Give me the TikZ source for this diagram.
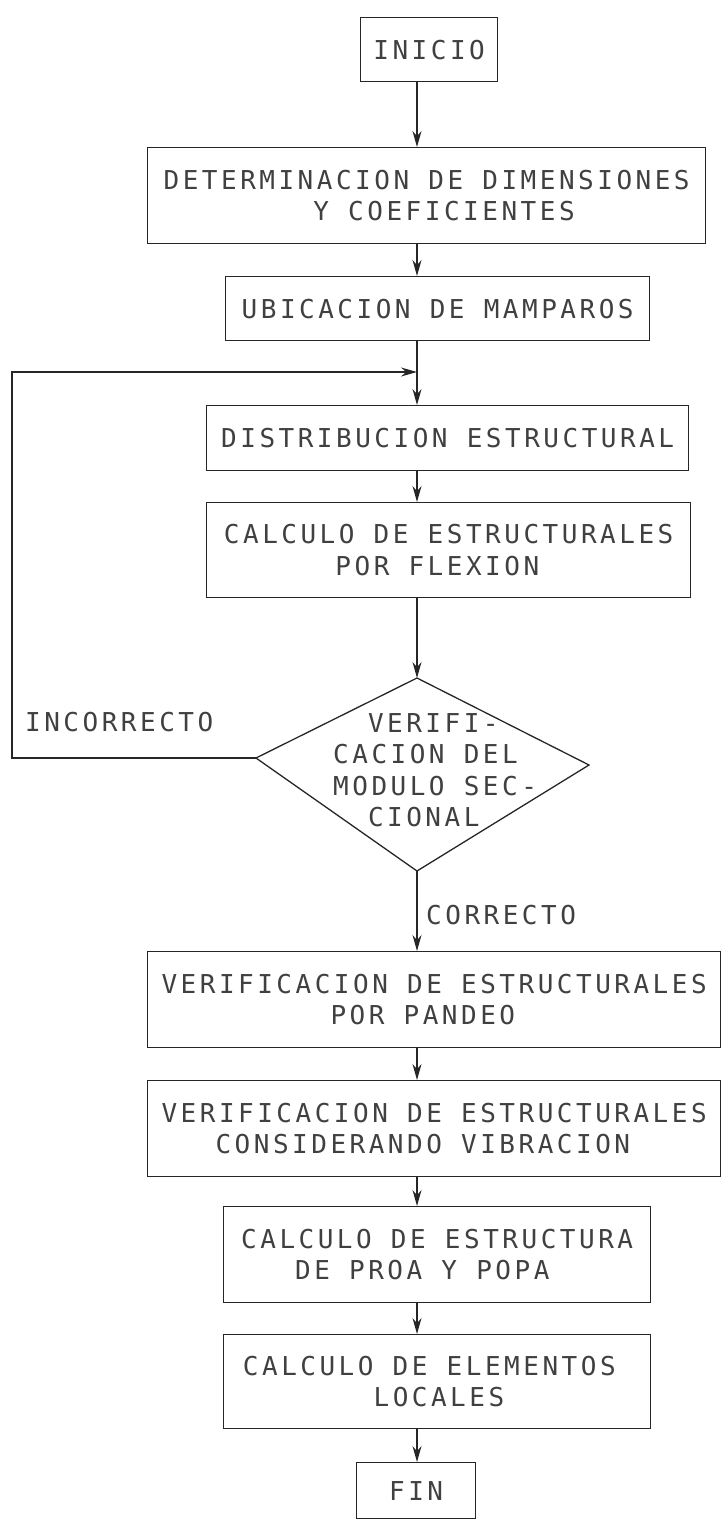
\documentclass[tikz,border=0pt]{standalone}
\usepackage{fontspec}
\newfontfamily\plotfont[LetterSpace=13.5]{DejaVu Sans Mono}
\usetikzlibrary{arrows.meta}
\begin{document}
\begin{tikzpicture}[x=1pt,y=-1pt,
  txt/.style={text=black!75, font=\fontsize{26}{31.5}\plotfont},
  box/.style={txt, draw=black!85, line width=1.3pt, anchor=north west, inner sep=0pt, align=left},
  lbl/.style={txt, inner sep=0pt, anchor=west, align=left},
  conn/.style={draw=black!85, line width=1.3pt},
  arr/.style={conn, -{Stealth[length=16pt,width=9pt]}}]
\path[use as bounding box] (0,0) rectangle (723,1522);
\clip (0,0) rectangle (723,1522);
\coordinate (axis) at (417,0);
% boxes
\node[box, minimum width=137pt, minimum height=64pt] (inicio) at (360,17) {INICIO};
\node[box, minimum width=558pt, minimum height=96pt] (det) at (147,147)
  {DETERMINACION DE DIMENSIONES\\\phantom{XXXXXXXX}Y COEFICIENTES};
\node[box, minimum width=424pt, minimum height=64pt] (ubic) at (225,276) {UBICACION DE MAMPAROS};
\node[box, minimum width=482pt, minimum height=65pt] (distrib) at (206,405) {DISTRIBUCION ESTRUCTURAL};
\node[box, minimum width=484pt, minimum height=95pt] (calc) at (206,502)
  {CALCULO DE ESTRUCTURALES\\\phantom{XXXXXX}POR FLEXION};
\node[box, minimum width=573pt, minimum height=96pt] (verif1) at (147,951)
  {VERIFICACION DE ESTRUCTURALES\\\phantom{XXXXXXXXX}POR PANDEO};
\node[box, minimum width=573pt, minimum height=96pt] (verif2) at (147,1080)
  {VERIFICACION DE ESTRUCTURALES\\\phantom{XXX}CONSIDERANDO VIBRACION};
\node[box, minimum width=427pt, minimum height=96pt] (proa) at (223,1206)
  {CALCULO DE ESTRUCTURA\\\phantom{XXX}DE PROA Y POPA};
\node[box, minimum width=427pt, minimum height=94pt] (elem) at (223,1334)
  {CALCULO DE ELEMENTOS\phantom{X}\\\phantom{XXXXXXX}LOCALES};
\node[box, align=center, minimum width=119pt, minimum height=56pt] (fin) at (356,1462) {FIN};
% decision
\coordinate (dt) at (417,678);
\coordinate (dr) at (589,765);
\coordinate (db) at (417,871);
\coordinate (dl) at (256,758);
\draw[conn] (dt) -- (dr) -- (db) -- (dl) -- cycle;
\node[lbl] (dtext) at (333,770)
  {\phantom{XX}VERIFI-\\CACION DEL\\MODULO SEC-\\\phantom{XX}CIONAL};
% labels
\node[lbl] (incorrecto) at (25,722) {INCORRECTO};
\node[lbl] (correcto) at (426,915) {CORRECTO};
% loop coordinates
\coordinate (lc) at (12,372);
\coordinate (loopy) at (417,372);
% connectors
\draw[arr] (axis |- inicio.south) -- (axis |- det.north);
\draw[arr] (axis |- det.south) -- (axis |- ubic.north);
\draw[arr] (axis |- ubic.south) -- (axis |- distrib.north);
\draw[arr] (dl) -| (lc) -- (loopy);
\draw[arr] (axis |- distrib.south) -- (axis |- calc.north);
\draw[arr] (axis |- calc.south) -- (dt);
\draw[arr] (db) -- (axis |- verif1.north);
\draw[arr] (axis |- verif1.south) -- (axis |- verif2.north);
\draw[arr] (axis |- verif2.south) -- (axis |- proa.north);
\draw[arr] (axis |- proa.south) -- (axis |- elem.north);
\draw[arr] (axis |- elem.south) -- (axis |- fin.north);
\end{tikzpicture}
\end{document}
